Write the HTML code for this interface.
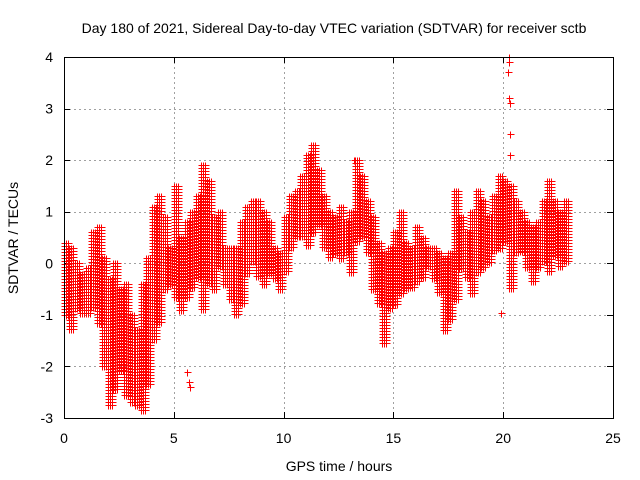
<!DOCTYPE html>
<html><head><meta charset="utf-8"><style>
body{margin:0;background:#fff;}
svg{display:block;font-family:"Liberation Sans",sans-serif;}
</style></head><body>
<svg id="chart" width="640" height="480">
<text x="334" y="33" font-size="14" text-anchor="middle">Day 180 of 2021, Sidereal Day-to-day VTEC variation (SDTVAR) for receiver sctb</text>
<text x="339" y="471" font-size="14" text-anchor="middle">GPS time / hours</text>
<text transform="translate(18,238) rotate(-90)" font-size="14" text-anchor="middle">SDTVAR / TECUs</text>
<g id="grid"></g>
<g id="ticks"></g>
<path id="marks" fill="none" stroke="#ff0000" stroke-width="1" shape-rendering="crispEdges"></path>
<path id="outl" fill="none" stroke="#ff0000" stroke-width="1" shape-rendering="crispEdges"></path>
<rect x="64.5" y="57.5" width="549" height="361" fill="none" stroke="#000" stroke-width="1"></rect>
</svg>
<script>
const binHours=[0,0.25,0.5,0.75,1,1.25,1.5,1.75,2,2.25,2.5,2.75,3,3.25,3.5,3.75,4,4.25,4.5,4.75,5,5.25,5.5,5.75,6,6.25,6.5,6.75,7,7.25,7.5,7.75,8,8.25,8.5,8.75,9,9.25,9.5,9.75,10,10.25,10.5,10.75,11,11.25,11.5,11.75,12,12.25,12.5,12.75,13,13.25,13.5,13.75,14,14.25,14.5,14.75,15,15.25,15.5,15.75,16,16.25,16.5,16.75,17,17.25,17.5,17.75,18,18.25,18.5,18.75,19,19.25,19.5,19.75,20,20.25,20.5,20.75,21,21.25,21.5,21.75,22,22.25,22.5,22.75];
const binLow=[-1.0,-1.3,-0.9,-1.0,-1.0,-0.9,-1.2,-2.0,-2.8,-2.5,-2.1,-2.6,-2.7,-2.8,-2.9,-2.4,-1.5,-1.2,-0.5,-0.4,-0.7,-0.9,-0.7,-0.5,-0.3,-0.9,-0.4,-0.5,-0.1,-0.4,-0.7,-1.0,-0.8,-0.2,0.0,-0.3,-0.4,-0.2,-0.3,-0.5,-0.2,0.3,0.5,0.5,0.3,0.6,0.7,0.3,0.1,0.2,0.1,0.2,-0.2,0.4,0.5,0.2,-0.5,-0.8,-1.6,-0.9,-0.8,-0.6,-0.5,-0.5,-0.4,-0.3,-0.1,-0.3,-0.6,-1.3,-1.1,-0.7,-0.1,-0.3,-0.6,-0.2,-0.1,0.0,0.2,0.3,0.4,-0.5,0.2,0.2,-0.1,-0.4,-0.1,0.0,-0.2,0.1,-0.1,0.0];
const binHigh=[0.4,0.3,0.0,-0.2,-0.1,0.6,0.7,0.1,-0.3,0.0,-0.5,-0.4,-1.0,-1.3,-0.4,0.1,1.1,1.3,0.9,0.3,1.5,0.5,0.8,1.0,1.3,1.9,1.6,0.9,1.0,0.3,0.3,0.3,0.8,1.1,1.2,1.2,1.0,0.8,0.3,0.2,0.9,1.3,1.4,1.7,2.1,2.3,1.8,1.3,1.0,0.9,1.1,0.8,1.0,2.0,1.7,1.2,0.9,0.4,0.2,0.3,0.6,1.0,0.4,0.3,0.7,0.5,0.3,0.3,0.2,0.1,0.2,1.4,0.9,0.6,1.0,1.4,1.2,0.9,1.3,1.7,1.6,1.5,1.2,1.0,0.8,0.7,0.8,1.2,1.6,1.2,1.0,1.2];
const outlierHours=[20.25,20.25,20.2,20.27,20.3,20.3,20.3,19.9,5.6,5.7,5.75,13.2];
const outlierValues=[4.0,3.9,3.7,3.2,3.1,2.5,2.1,-0.97,-2.1,-2.3,-2.4,2.0];
const xTicks=[0,5,10,15,20,25];
const yTicks=[-3,-2,-1,0,1,2,3,4];

const X0=64,X1=613,Y0=418,Y1=57;
const xs=t=>X0+(t/25)*(X1-X0);
const ys=v=>Y0-((v+3)/7)*(Y0-Y1);
const NS="http://www.w3.org/2000/svg";
const px=v=>Math.round(v)+0.5;
const grid=document.getElementById('grid'),ticks=document.getElementById('ticks');
function ln(p,x1,y1,x2,y2,st,dash,name){const l=document.createElementNS(NS,'line');
l.setAttribute('x1',x1);l.setAttribute('y1',y1);l.setAttribute('x2',x2);l.setAttribute('y2',y2);
l.setAttribute('stroke',st);if(dash)l.setAttribute('stroke-dasharray',dash);
l.setAttribute('shape-rendering','crispEdges');


p.appendChild(l);}
function tx(p,x,y,s,anchor,name){const t=document.createElementNS(NS,'text');
t.setAttribute('x',x);t.setAttribute('y',y);t.setAttribute('font-size','14');t.setAttribute('text-anchor',anchor);t.textContent=s;


p.appendChild(t);}
xTicks.forEach(t=>{const x=px(xs(t));
 if(t>0&&t<25)ln(grid,x,Y1,x,Y0,'#a0a0a0','2,3','x-gridline');
 ln(ticks,x,Y0,x,Y0-6,'#000',null,'x-tick');ln(ticks,x,Y1,x,Y1+6,'#000',null,'x-tick');
 tx(ticks,xs(t),443,String(t),'middle','x-tick-label');});
yTicks.forEach(v=>{const y=px(ys(v));
 if(v>-3&&v<4)ln(grid,X0,y,X1,y,'#a0a0a0','2,3','y-gridline');
 ln(ticks,X0,y,X0+6,y,'#000',null,'y-tick');ln(ticks,X1,y,X1-6,y,'#000',null,'y-tick');
 tx(ticks,53,ys(v)+5,String(v),'end','y-tick-label');});
let d='';
const bw=xs(0.25)-xs(0);
function plus(x,y){x=px(x);y=px(y);return 'M'+(x-3)+' '+y+'h7M'+x+' '+(y-3)+'v7';}
binHours.forEach((h,i)=>{
 const lo=ys(binLow[i]),hi=ys(binHigh[i]);
 for(let dx=0;dx<bw;dx+=2){const x=xs(h)+dx;
  for(let y=hi;y<=lo+0.01;y+=3){d+=plus(x,y);}}
});
document.getElementById('marks').setAttribute('d',d);
let o='';
outlierHours.forEach((h,i)=>{o+=plus(xs(h),ys(outlierValues[i]));});
document.getElementById('outl').setAttribute('d',o);
</script>
</body></html>
